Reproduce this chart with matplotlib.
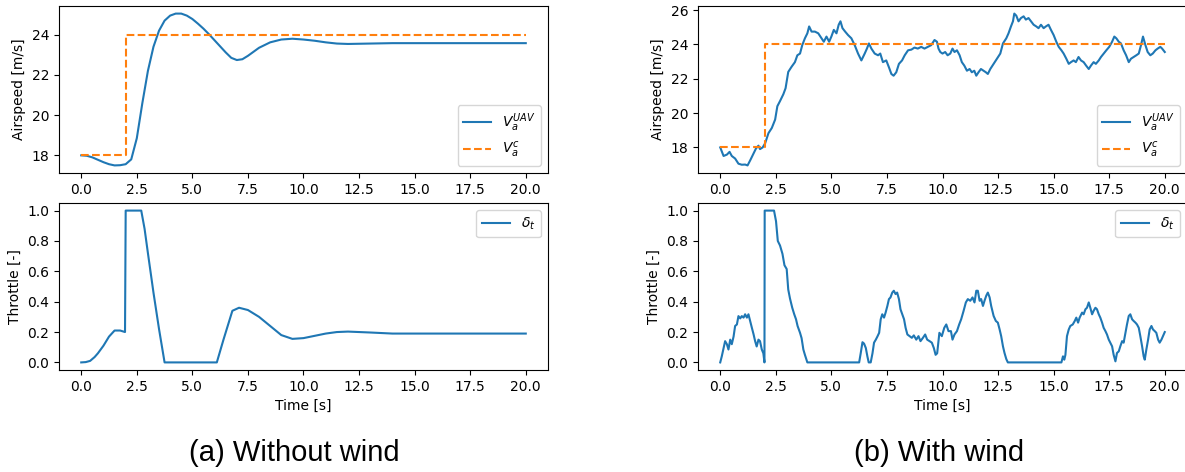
import numpy as np
import matplotlib
matplotlib.use('Agg')
import matplotlib.pyplot as plt

# --- (a) without wind ---
t_va_a = [0.0, 0.25, 0.5, 0.75, 1.0, 1.25, 1.5, 1.75, 2.0, 2.25, 2.5, 2.75, 3.0, 3.25,
          3.5, 3.75, 4.0, 4.25, 4.5, 4.75, 5.0, 5.25, 5.5, 5.75, 6.0, 6.25, 6.5, 6.75,
          7.0, 7.25, 7.5, 7.75, 8.0, 8.5, 9.0, 9.5, 10.0, 10.5, 11.0, 11.5, 12.0, 12.5,
          13.0, 14.0, 15.0, 16.0, 17.0, 18.0, 19.0, 20.0]
va_a = [18.0, 17.98, 17.9, 17.78, 17.66, 17.56, 17.5, 17.51, 17.56, 17.8, 18.85, 20.6,
        22.2, 23.4, 24.2, 24.7, 24.95, 25.05, 25.05, 24.95, 24.78, 24.55, 24.3, 24.02,
        23.72, 23.42, 23.12, 22.85, 22.74, 22.78, 22.95, 23.15, 23.35, 23.62, 23.76, 23.8,
        23.76, 23.7, 23.62, 23.56, 23.54, 23.55, 23.56, 23.58, 23.58, 23.58, 23.58, 23.58,
        23.58, 23.58]

t_cmd = [0.0, 2.0, 2.0, 20.0]
v_cmd = [18.0, 18.0, 24.0, 24.0]

t_thr_a = [0.0, 0.2, 0.4, 0.6, 0.75, 1.0, 1.25, 1.5, 1.75, 1.97, 2.0, 2.7, 2.85, 3.0,
           3.25, 3.5, 3.75, 6.1, 6.4, 6.8, 7.1, 7.5, 8.0, 8.5, 9.0, 9.5, 10.0, 10.5,
           11.0, 11.5, 12.0, 12.5, 13.0, 14.0, 15.0, 20.0]
thr_a = [0.0, 0.002, 0.01, 0.035, 0.06, 0.11, 0.17, 0.21, 0.21, 0.2, 1.0, 1.0, 0.88,
         0.72, 0.46, 0.22, 0.0, 0.0, 0.15, 0.34, 0.36, 0.345, 0.3, 0.24, 0.18, 0.155,
         0.16, 0.175, 0.19, 0.2, 0.203, 0.2, 0.197, 0.19, 0.19, 0.19]

# --- (b) with wind ---
t_va_b = [0.0, 0.15, 0.3, 0.42, 0.52, 0.67, 0.82, 0.97, 1.12, 1.23, 1.35, 1.5, 1.61,
          1.72, 1.79, 1.91, 2.02, 2.17, 2.32, 2.47, 2.57, 2.69, 2.84, 2.94, 3.06, 3.21,
          3.36, 3.47, 3.59, 3.69, 3.81, 3.92, 4.0, 4.11, 4.26, 4.41, 4.56, 4.66, 4.78,
          4.9, 5.0, 5.11, 5.23, 5.33, 5.41, 5.5, 5.62, 5.75, 5.9, 6.05, 6.2, 6.35, 6.5,
          6.6, 6.69, 6.8, 6.95, 7.1, 7.2, 7.32, 7.47, 7.59, 7.7, 7.8, 7.92, 8.04, 8.18,
          8.3, 8.45, 8.6, 8.74, 8.89, 9.04, 9.19, 9.34, 9.49, 9.64, 9.75, 9.82, 9.9,
          10.0, 10.12, 10.23, 10.35, 10.45, 10.54, 10.65, 10.77, 10.87, 10.98, 11.1,
          11.22, 11.32, 11.43, 11.52, 11.62, 11.73, 11.85, 11.95, 12.04, 12.15, 12.3,
          12.45, 12.6, 12.72, 12.87, 12.97, 13.08, 13.17, 13.23, 13.32, 13.42, 13.53,
          13.65, 13.75, 13.87, 13.98, 14.1, 14.22, 14.32, 14.43, 14.55, 14.65, 14.77,
          14.88, 15.0, 15.12, 15.23, 15.35, 15.45, 15.57, 15.68, 15.78, 15.9, 16.0,
          16.12, 16.23, 16.35, 16.46, 16.58, 16.68, 16.8, 16.9, 17.03, 17.13, 17.25,
          17.37, 17.5, 17.63, 17.73, 17.82, 17.93, 18.03, 18.15, 18.26, 18.38, 18.48,
          18.6, 18.72, 18.83, 18.93, 19.02, 19.13, 19.23, 19.35, 19.46, 19.58, 19.68,
          19.8, 19.88, 20.0]
va_b = [18.0, 17.5, 17.58, 17.74, 17.5, 17.35, 17.05, 16.99, 17.0, 16.95, 17.25, 17.65,
        17.94, 18.1, 17.9, 18.0, 18.24, 18.83, 19.13, 19.62, 20.4, 20.7, 21.1, 21.45,
        22.4, 22.7, 22.97, 23.37, 23.47, 23.96, 24.36, 24.65, 25.05, 24.75, 24.75,
        24.65, 24.36, 24.16, 24.46, 24.16, 24.46, 24.85, 24.65, 25.15, 25.35, 24.95,
        24.75, 24.55, 24.36, 23.96, 23.47, 23.07, 23.47, 23.76, 24.06, 23.76, 23.47,
        23.37, 23.47, 22.97, 23.07, 22.67, 22.28, 22.18, 22.38, 22.87, 23.07, 23.37,
        23.66, 23.7, 23.82, 23.76, 23.86, 23.76, 23.86, 23.96, 24.26, 24.16, 23.76,
        23.56, 23.47, 23.56, 23.37, 23.47, 23.76, 23.56, 23.66, 23.37, 22.97, 22.77,
        22.47, 22.57, 22.38, 22.47, 22.18, 22.38, 22.57, 22.47, 22.38, 22.28, 22.57,
        22.87, 23.17, 23.47, 24.06, 24.36, 24.65, 25.05, 25.35, 25.8, 25.68, 25.35,
        25.54, 25.64, 25.45, 25.54, 25.35, 25.15, 25.05, 24.95, 25.15, 24.95, 25.05,
        25.15, 24.85, 24.55, 24.16, 23.86, 23.66, 23.47, 23.17, 22.87, 22.97, 23.07,
        22.97, 23.27, 23.07, 22.97, 22.77, 22.57, 22.77, 22.97, 22.87, 23.07, 23.27,
        23.47, 23.66, 23.86, 24.16, 24.46, 24.36, 24.16, 24.06, 23.66, 23.37, 22.97,
        23.17, 23.27, 23.37, 23.47, 23.96, 24.46, 23.96, 23.56, 23.37, 23.47, 23.66,
        23.76, 23.86, 23.76, 23.56]

t_thr_b = [0.0, 0.07, 0.15, 0.22, 0.3, 0.37, 0.45, 0.52, 0.6, 0.67, 0.75, 0.82, 0.9,
           0.97, 1.05, 1.12, 1.2, 1.27, 1.35, 1.42, 1.5, 1.57, 1.64, 1.72, 1.79, 1.87,
           1.94, 1.99, 2.0, 2.42, 2.51, 2.59, 2.69, 2.8, 2.89, 2.99, 3.06, 3.14, 3.24,
           3.33, 3.41, 3.48, 3.59, 3.66, 3.74, 3.81, 3.92, 6.25, 6.32, 6.4, 6.47, 6.55,
           6.62, 6.68, 6.77, 6.85, 6.92, 7.0, 7.07, 7.15, 7.22, 7.29, 7.37, 7.44, 7.52,
           7.59, 7.66, 7.74, 7.81, 7.89, 7.96, 8.04, 8.11, 8.19, 8.27, 8.34, 8.42, 8.52,
           8.62, 8.71, 8.82, 8.92, 9.01, 9.12, 9.22, 9.31, 9.42, 9.52, 9.61, 9.69, 9.76,
           9.86, 9.97, 10.08, 10.17, 10.27, 10.38, 10.45, 10.54, 10.65, 10.75, 10.84,
           10.95, 11.05, 11.14, 11.25, 11.35, 11.44, 11.52, 11.59, 11.67, 11.74, 11.82,
           11.89, 11.97, 12.04, 12.12, 12.19, 12.3, 12.4, 12.49, 12.57, 12.64, 12.72,
           12.79, 12.87, 12.94, 15.35, 15.42, 15.48, 15.53, 15.6, 15.68, 15.75, 15.86,
           15.95, 16.02, 16.1, 16.17, 16.28, 16.35, 16.43, 16.5, 16.58, 16.65, 16.73,
           16.8, 16.88, 16.95, 17.03, 17.1, 17.18, 17.25, 17.33, 17.4, 17.48, 17.55,
           17.63, 17.7, 17.78, 17.85, 17.93, 18.0, 18.08, 18.15, 18.23, 18.3, 18.38,
           18.45, 18.53, 18.6, 18.68, 18.75, 18.83, 18.9, 18.98, 19.05, 19.1, 19.17,
           19.25, 19.32, 19.4, 19.47, 19.55, 19.62, 19.7, 19.77, 19.85, 19.92, 20.0]
thr_b = [0.0, 0.04, 0.095, 0.14, 0.12, 0.085, 0.15, 0.12, 0.17, 0.24, 0.25, 0.305, 0.29,
         0.305, 0.295, 0.317, 0.295, 0.317, 0.27, 0.23, 0.185, 0.14, 0.105, 0.15, 0.14,
         0.085, 0.06, 0.0, 1.0, 1.0, 0.93, 0.8, 0.77, 0.715, 0.64, 0.615, 0.48, 0.42,
         0.36, 0.317, 0.284, 0.24, 0.195, 0.16, 0.085, 0.05, 0.0, 0.0, 0.06, 0.133,
         0.124, 0.095, 0.04, 0.0, 0.0, 0.06, 0.13, 0.15, 0.17, 0.195, 0.284, 0.317,
         0.295, 0.328, 0.372, 0.417, 0.428, 0.46, 0.472, 0.45, 0.46, 0.417, 0.35, 0.317,
         0.284, 0.228, 0.184, 0.173, 0.162, 0.178, 0.15, 0.173, 0.14, 0.162, 0.184, 0.15,
         0.14, 0.13, 0.095, 0.05, 0.06, 0.195, 0.173, 0.228, 0.25, 0.206, 0.206, 0.15,
         0.184, 0.206, 0.25, 0.284, 0.34, 0.395, 0.417, 0.406, 0.428, 0.395, 0.472,
         0.472, 0.406, 0.417, 0.372, 0.406, 0.44, 0.46, 0.428, 0.372, 0.306, 0.273,
         0.262, 0.217, 0.173, 0.106, 0.062, 0.022, 0.0, 0.0, 0.04, 0.018, 0.05, 0.173,
         0.217, 0.24, 0.25, 0.273, 0.295, 0.262, 0.295, 0.328, 0.317, 0.35, 0.36, 0.395,
         0.36, 0.317, 0.34, 0.36, 0.35, 0.317, 0.295, 0.262, 0.228, 0.206, 0.184, 0.15,
         0.13, 0.106, 0.05, 0.007, 0.062, 0.073, 0.106, 0.14, 0.13, 0.195, 0.25, 0.306,
         0.317, 0.284, 0.273, 0.262, 0.25, 0.228, 0.173, 0.106, 0.04, 0.018, 0.084,
         0.15, 0.217, 0.24, 0.217, 0.206, 0.195, 0.15, 0.13, 0.15, 0.173, 0.2]

captions = ['(a) Without wind', '(b) With wind']

fig = plt.figure(figsize=(11.85, 4.72), dpi=100)
fs = 10

panels = [
    (59, t_va_a, va_a, t_thr_a, thr_a),
    (698, t_va_b, va_b, t_thr_b, thr_b),
]
for left_px, tv, v, tt, thr in panels:
    l = left_px / 1185
    w = 489 / 1185
    ax1 = fig.add_axes([l, 1 - 173 / 472, w, 167 / 472])
    ax2 = fig.add_axes([l, 1 - 370 / 472, w, 167 / 472])

    ax1.plot(tv, v, color='C0', lw=1.5, label='$V_a^{UAV}$')
    ax1.plot(t_cmd, v_cmd, '--', color='C1', lw=1.5, label='$V_a^c$')
    ax1.set_ylabel('Airspeed [m/s]', fontsize=fs)
    ax1.legend(loc='lower right', fontsize=fs)

    ax2.plot(tt, thr, color='C0', lw=1.5, label='$\\delta_t$')
    ax2.set_ylabel('Throttle [-]', fontsize=fs)
    ax2.set_xlabel('Time [s]', fontsize=fs)
    ax2.legend(loc='upper right', fontsize=fs)

    for ax in (ax1, ax2):
        ax.set_xticks(np.arange(0, 20.1, 2.5))
        ax.tick_params(labelsize=fs)

fig.text(294 / 1185, 1 - 453 / 472, captions[0], fontsize=21,
         family='Liberation Sans', ha='center', va='center')
fig.text(939 / 1185, 1 - 453 / 472, captions[1], fontsize=21,
         family='Liberation Sans', ha='center', va='center')

fig.savefig('out.png', dpi=100)
